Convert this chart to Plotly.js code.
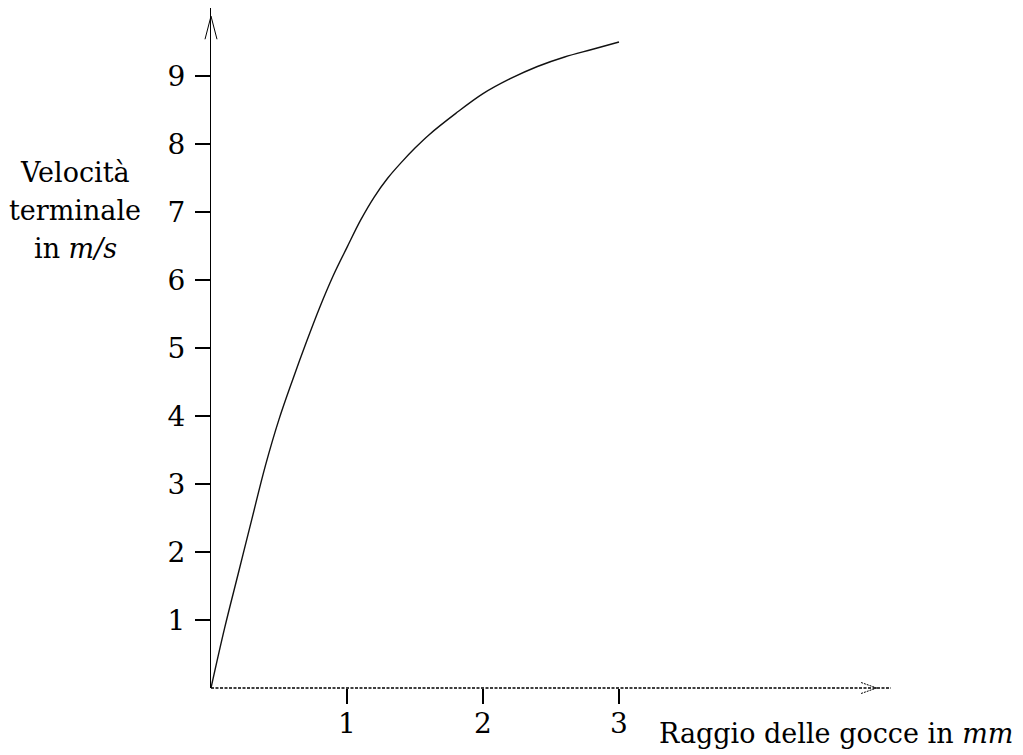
<!DOCTYPE html>
<html>
<head>
<meta charset="utf-8">
<script src="https://cdn.plot.ly/plotly-3.0.1.min.js"></script>
<style>html,body{margin:0;padding:0;background:#fff;}#chart{width:1023px;height:755px;}</style>
</head>
<body>
<div id="chart"></div>
<script>
// Data
var radiusMm = [0, 0.1, 0.2, 0.3, 0.4, 0.5, 0.6, 0.7, 0.8, 0.9, 1.0, 1.1, 1.2, 1.3, 1.4, 1.5, 1.6, 1.8, 2.0, 2.2, 2.4, 2.6, 2.8, 3.0];
var velocityMs = [0, 0.88, 1.68, 2.48, 3.27, 3.95, 4.53, 5.08, 5.60, 6.07, 6.48, 6.88, 7.22, 7.50, 7.73, 7.94, 8.13, 8.45, 8.74, 8.96, 9.14, 9.28, 9.39, 9.50];
var xTickVals = [1, 2, 3];
var xTickText = ['1', '2', '3'];
var yTickVals = [1, 2, 3, 4, 5, 6, 7, 8, 9];
var yTickText = ['1', '2', '3', '4', '5', '6', '7', '8', '9'];
var xTitle = 'Raggio delle gocce in <i>mm</i>';
var yTitleLines = ['Velocità', 'terminale', 'in <i>m/s</i>'];

var X_MAX = 5, Y_MAX = 10;
var FONT = 'DejaVu Serif, Liberation Serif, serif';

var trace = {
  x: radiusMm, y: velocityMs, type: 'scatter', mode: 'lines',
  line: {color: '#111', width: 1.4, shape: 'spline', smoothing: 1},
  hoverinfo: 'skip', showlegend: false
};

var yTitleAnn = yTitleLines.map(function (t, i) {
  return {
    text: t, xref: 'paper', yref: 'paper', x: -0.2, y: (688 - (172 + i * 38.5)) / 680,
    xanchor: 'center', yanchor: 'middle', showarrow: false,
    font: {family: FONT, size: 27, color: '#000'}
  };
});

var layout = {
  width: 1023, height: 755,
  margin: {l: 211, r: 132, t: 8, b: 67, pad: 0},
  paper_bgcolor: '#fff', plot_bgcolor: '#fff',
  showlegend: false,
  xaxis: {
    range: [0, X_MAX], showgrid: false, zeroline: false, showline: false,
    tickmode: 'array', tickvals: xTickVals, ticktext: xTickText,
    ticks: 'outside', ticklen: 15, tickwidth: 2, tickcolor: '#000',
    ticklabelstandoff: -5,
    tickfont: {family: FONT, size: 28, color: '#000'}, fixedrange: true
  },
  yaxis: {
    range: [0, Y_MAX], showgrid: false, zeroline: false,
    showline: true, linecolor: '#000', linewidth: 1,
    tickmode: 'array', tickvals: yTickVals, ticktext: yTickText,
    ticks: 'outside', ticklen: 15, tickwidth: 2, tickcolor: '#000',
    ticklabelstandoff: 4,
    tickfont: {family: FONT, size: 28, color: '#000'}, fixedrange: true
  },
  shapes: [
    // dotted x axis line
    {type: 'line', xref: 'paper', yref: 'paper', x0: 0, x1: 1, y0: 0, y1: 0,
     line: {color: '#000', width: 1.3, dash: '3px,1.5px'}},
    // x arrow head
    {type: 'line', xref: 'paper', yref: 'paper', ysizemode: 'pixel', yanchor: 0,
     x0: 4.78 / X_MAX, x1: 4.895 / X_MAX, y0: 5.5, y1: 0,
     line: {color: '#000', width: 1, dash: '2px,1px'}},
    {type: 'line', xref: 'paper', yref: 'paper', ysizemode: 'pixel', yanchor: 0,
     x0: 4.78 / X_MAX, x1: 4.895 / X_MAX, y0: -5.5, y1: 0,
     line: {color: '#000', width: 1, dash: '2px,1px'}},
    // y arrow head
    {type: 'line', xref: 'paper', yref: 'paper', xsizemode: 'pixel', xanchor: 0,
     x0: -6, x1: 0, y0: 9.54 / Y_MAX, y1: 9.88 / Y_MAX,
     line: {color: '#000', width: 1}},
    {type: 'line', xref: 'paper', yref: 'paper', xsizemode: 'pixel', xanchor: 0,
     x0: 6, x1: 0, y0: 9.54 / Y_MAX, y1: 9.88 / Y_MAX,
     line: {color: '#000', width: 1}}
  ],
  annotations: yTitleAnn.concat([
    {text: xTitle, xref: 'paper', yref: 'paper', x: (1015 - 211) / 680, y: (688 - 733) / 680,
     xanchor: 'right', yanchor: 'middle', showarrow: false,
     font: {family: FONT, size: 27, color: '#000'}}
  ])
};

Plotly.newPlot('chart', [trace], layout, {displayModeBar: false, staticPlot: true});
</script>
</body>
</html>
